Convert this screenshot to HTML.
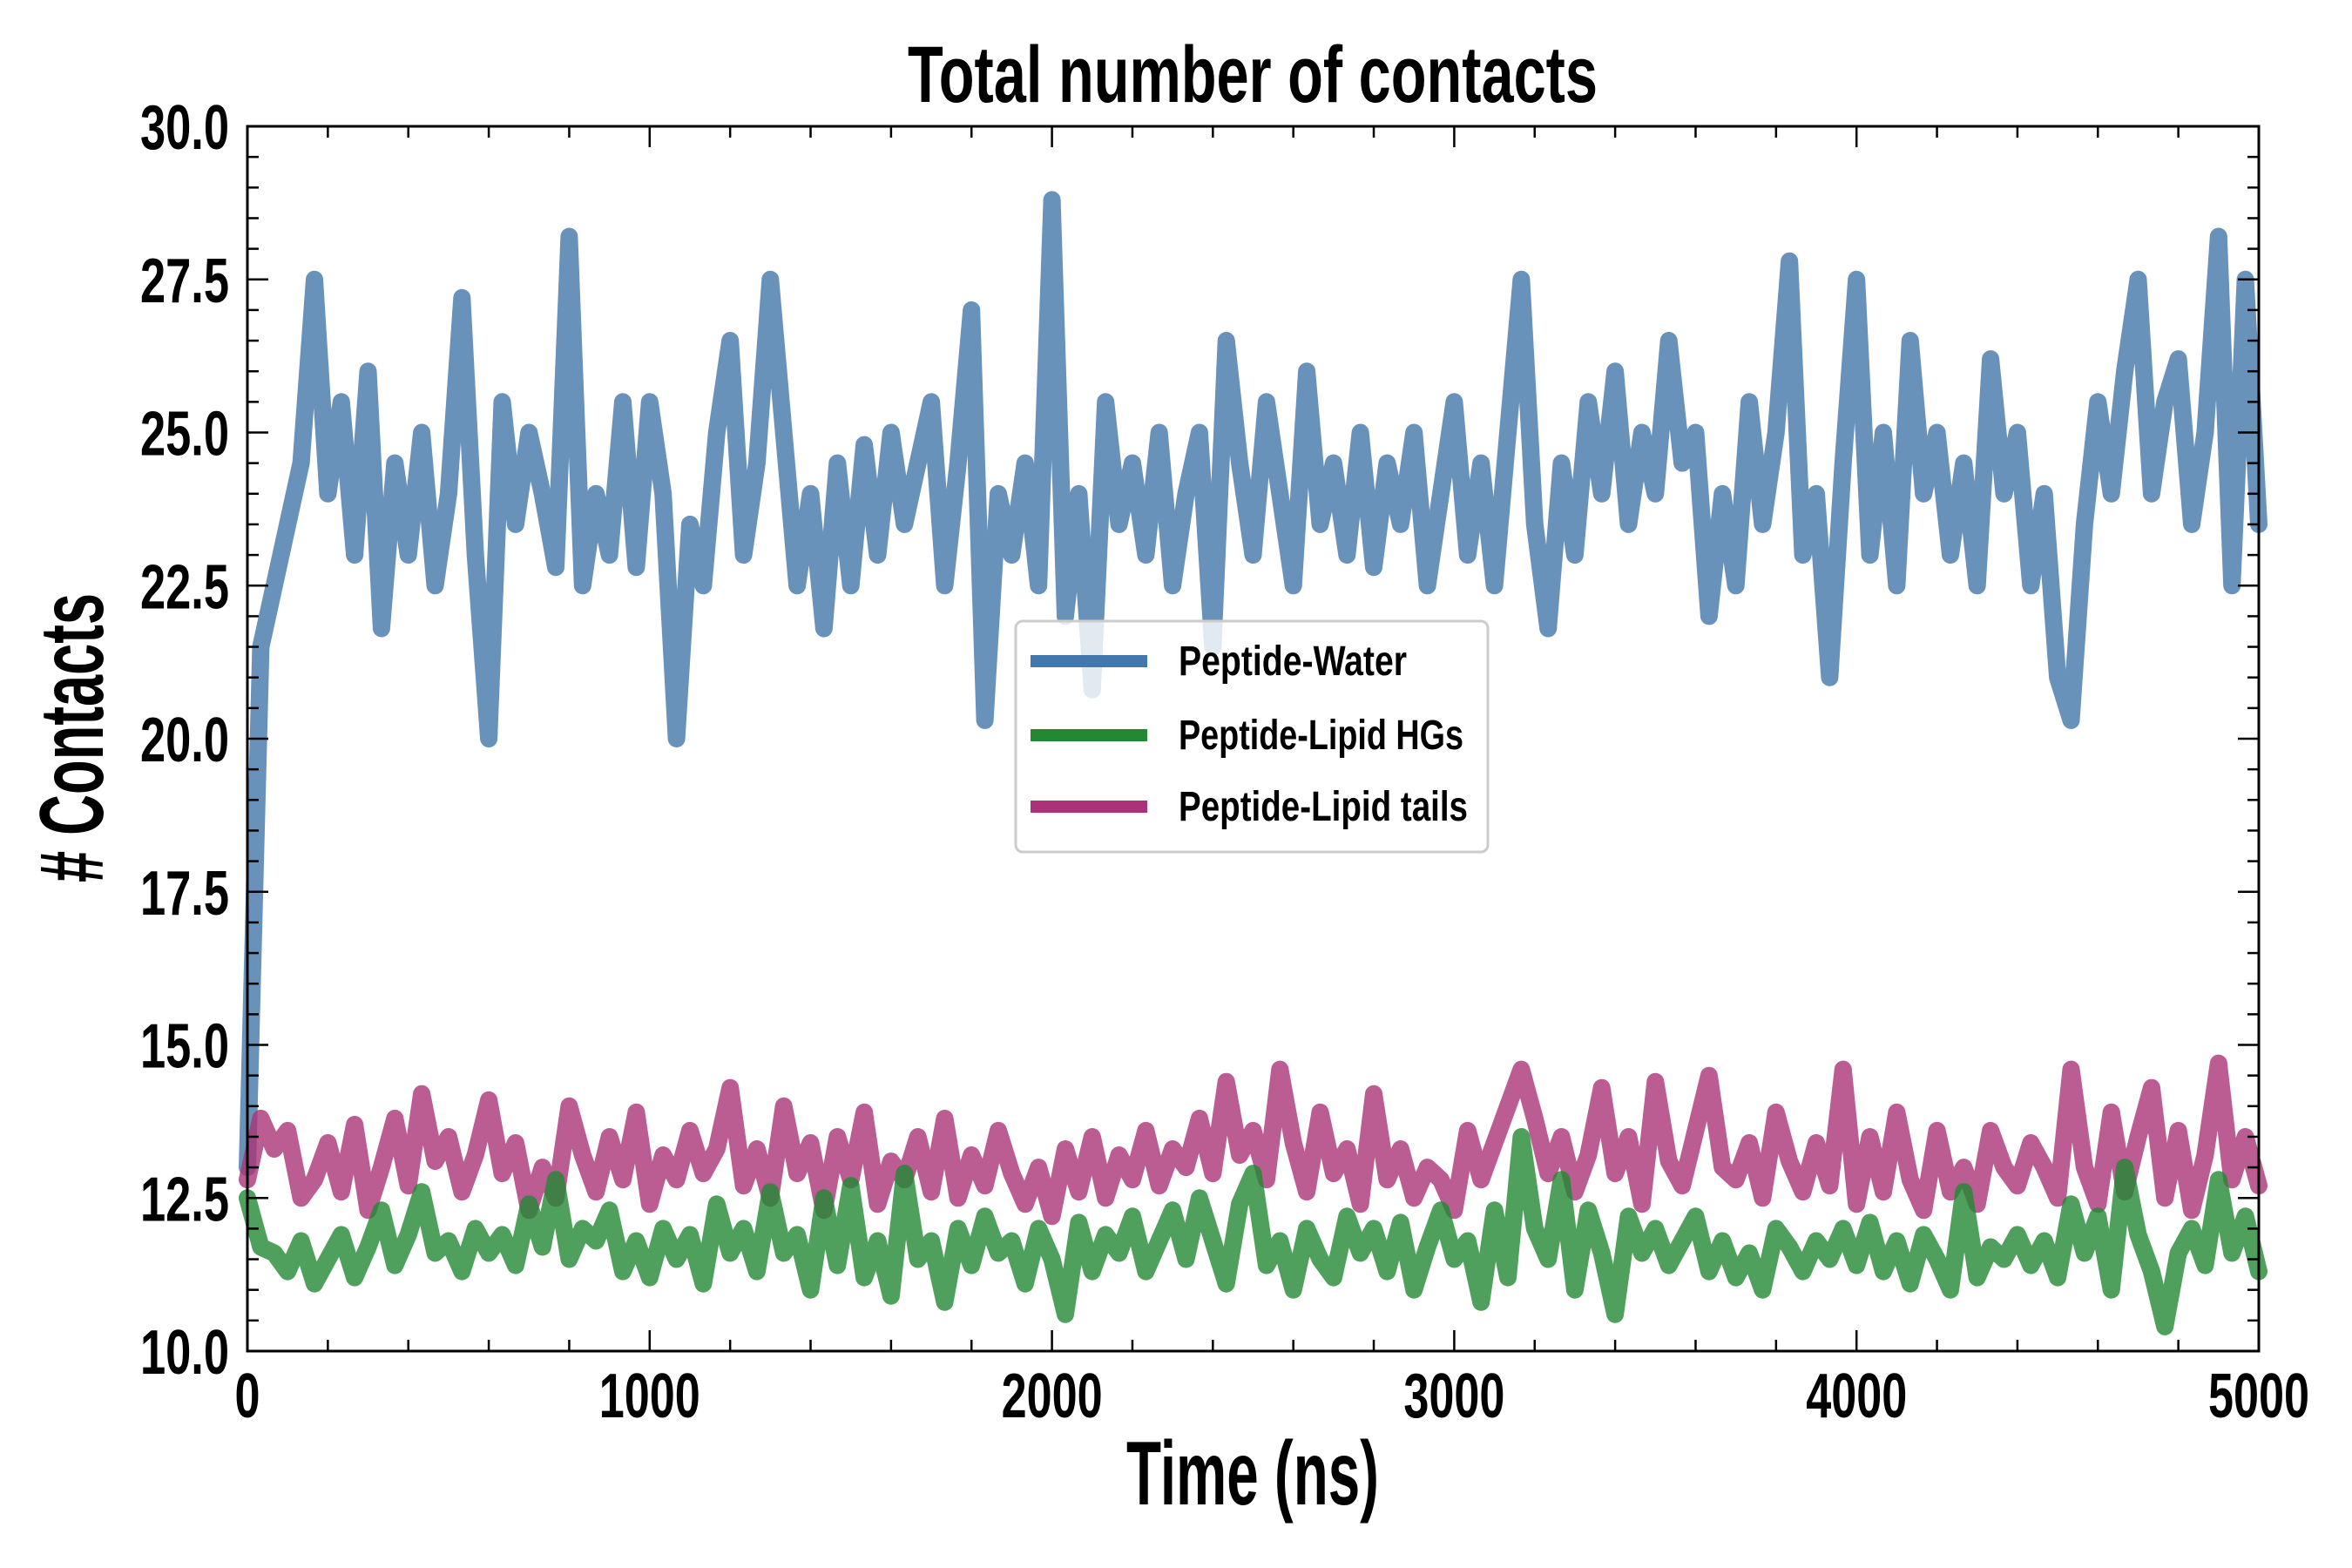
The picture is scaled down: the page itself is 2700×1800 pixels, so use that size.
<!DOCTYPE html>
<html><head><meta charset="utf-8"><style>html,body{margin:0;padding:0;background:#fff}svg{display:block}text{font-family:"Liberation Sans Narrow","Liberation Sans",sans-serif;font-weight:bold;fill:#000}</style></head>
<body>
<svg id="chart" width="2700" height="1800" viewBox="0 0 2700 1800" xmlns="http://www.w3.org/2000/svg">
<rect width="2700" height="1800" fill="#fff"/>
<g id="series"></g>
<g id="axes"></g>
<text x="1438" y="117" text-anchor="middle" font-size="92" textLength="792" lengthAdjust="spacingAndGlyphs">Total number of contacts</text>
<text x="1438" y="1727" text-anchor="middle" font-size="104" textLength="290" lengthAdjust="spacingAndGlyphs">Time (ns)</text>
<text transform="translate(118,847) rotate(-90)" text-anchor="middle" font-size="104" textLength="332" lengthAdjust="spacingAndGlyphs"># Contacts</text>
<g>
<rect x="1166" y="713" width="542" height="265" rx="8" fill="#fff" fill-opacity="0.8" stroke="#ccc" stroke-width="3"/>
<g><line x1="1183" y1="759" x2="1317" y2="759" stroke="#4477aa" stroke-width="14"/><text x="1353" y="775" font-size="48" textLength="262" lengthAdjust="spacingAndGlyphs">Peptide-Water</text></g>
<g><line x1="1183" y1="844" x2="1317" y2="844" stroke="#228833" stroke-width="14"/><text x="1353" y="860" font-size="48" textLength="327" lengthAdjust="spacingAndGlyphs">Peptide-Lipid HGs</text></g>
<g><line x1="1183" y1="926" x2="1317" y2="926" stroke="#aa3377" stroke-width="14"/><text x="1353" y="942" font-size="48" textLength="332" lengthAdjust="spacingAndGlyphs">Peptide-Lipid tails</text></g>
</g>
</svg>
<script>
const water = [13,21.5,22.5,23.5,24.5,27.5,24,25.5,23,26,21.8,24.5,23,25,22.5,24,27.2,23,20,25.5,23.5,25,24,22.8,28.2,22.5,24,23,25.5,22.8,
25.5,24,20,23.5,22.5,25,26.5,23,24.5,27.5,25,22.5,24,21.8,24.5,22.5,24.8,23,25,23.5,24.5,25.5,22.5,24.5,27,20.3,24,23,24.5,22.5,
28.8,22,24,20.8,25.5,23.5,24.5,23,25,22.5,24,25,21.5,26.5,24.5,23,25.5,24,22.5,26,23.5,24.5,23,25,22.8,24.5,23.5,25,22.5,24,
25.5,23,24.5,22.5,25,27.5,23.5,21.8,24.5,23,25.5,24,26,23.5,25,24,26.5,24.5,25,22,24,22.5,25.5,23.5,25,27.8,23,24,21,24.5,
27.5,23,25,22.5,26.5,24,25,23,24.5,22.5,26.2,24,25,22.5,24,21,20.3,23.5,25.5,24,26,27.5,24,25.5,26.2,23.5,25,28.2,22.5,27.5,23.5];
const tails = [12.8,13.8,13.3,13.6,12.5,12.8,13.4,12.6,13.7,12.3,13.0,13.8,12.7,14.2,13.1,13.5,12.6,13.2,14.1,12.9,13.4,12.3,13.0,12.5,14.0,13.2,12.6,13.5,12.8,13.9,
12.4,13.2,12.8,13.6,12.9,13.3,14.3,12.7,13.3,12.5,14.0,12.9,13.4,12.3,13.5,12.8,13.9,12.4,13.1,12.8,13.5,12.6,13.8,12.5,13.2,12.7,13.6,12.9,12.4,13.0,
12.2,13.3,12.6,13.5,12.5,13.2,12.8,13.6,12.7,13.3,13.0,13.8,12.9,14.4,13.2,13.6,12.8,14.6,13.4,12.6,13.9,12.9,13.3,12.4,14.2,12.8,13.3,12.5,13.0,12.8,
12.3,13.6,12.8,13.4,14.0,14.6,13.8,12.9,13.5,12.6,13.2,14.3,12.9,13.5,12.4,14.4,13.1,12.7,13.6,14.5,13.0,12.8,13.4,12.5,13.9,13.1,12.6,13.4,12.7,14.6,
12.4,13.5,12.6,13.9,12.8,12.3,13.6,12.6,13.0,12.4,13.6,13.0,12.7,13.4,13.0,12.5,14.6,13.0,12.4,13.9,12.6,13.5,14.3,12.5,13.6,12.3,13.2,14.7,12.8,13.5,12.7];
const hgs = [12.5,11.7,11.6,11.3,11.8,11.1,11.5,11.9,11.2,11.7,12.3,11.4,11.9,12.6,11.6,11.8,11.3,12.0,11.6,11.9,11.4,12.4,11.7,12.8,11.5,12.0,11.8,12.3,11.3,11.8,
11.2,12.0,11.5,11.9,11.1,12.4,11.6,12.0,11.3,12.6,11.6,11.9,11.0,12.5,11.4,12.7,11.2,11.8,10.9,12.9,11.5,11.8,10.8,12.0,11.4,12.2,11.6,11.8,11.1,12.0,
11.5,10.6,12.1,11.3,11.9,11.6,12.2,11.3,11.8,12.3,11.5,12.5,11.8,11.1,12.4,12.9,11.4,11.8,11.0,12.0,11.5,11.2,12.2,11.6,12.0,11.3,12.1,11.0,11.7,12.3,
11.5,11.8,10.8,12.3,11.2,13.5,12.0,11.5,12.8,11.0,12.3,11.6,10.6,12.2,11.6,12.0,11.4,11.8,12.2,11.3,11.8,11.2,11.6,11.0,12.0,11.7,11.3,11.8,11.5,12.0,
11.4,12.1,11.3,11.8,11.1,11.9,11.5,11.0,12.6,11.2,11.7,11.5,11.9,11.4,11.8,11.2,12.4,11.6,12.2,11.0,13.0,11.9,11.3,10.4,11.6,12.0,11.4,12.8,11.6,12.2,11.3];
const xTicks = [0,1000,2000,3000,4000,5000];
const yTicks = ["10.0","12.5","15.0","17.5","20.0","22.5","25.0","27.5","30.0"];
const tMax = 5000;

const L=284,R=2593,T=145,B=1551;
const xs = v => L + (v/5000)*(R-L);
const ys = v => B - ((v-10)/20)*(B-T);
const NS='http://www.w3.org/2000/svg';
function mk(tag, attrs, parent){const e=document.createElementNS(NS,tag);for(const k in attrs)e.setAttribute(k,attrs[k]);parent.appendChild(e);return e;}
const sg=document.getElementById('series');
function drawLine(arr,color,name){
  const n=arr.length;
  const d=arr.map((v,i)=>(i?'L':'M')+xs(i*tMax/(n-1)).toFixed(1)+','+ys(v).toFixed(1)).join('');
  const p=mk('path',{d:d,fill:'none',stroke:color,'stroke-width':20,'stroke-opacity':0.8,'stroke-linejoin':'round','stroke-linecap':'round'},sg);
  
  
}
drawLine(water,'#4477aa','water-line');
drawLine(tails,'#aa3377','lipid-tails-line');
drawLine(hgs,'#228833','lipid-hgs-line');
const ag=document.getElementById('axes');
const frame=mk('rect',{x:L,y:T,width:R-L,height:B-T,fill:'none',stroke:'#000','stroke-width':3},ag);


for(let v=0;v<=5000;v+=200){
  const x=xs(v), major=v%1000===0, len=major?24:13;
  mk('line',{x1:x,y1:B,x2:x,y2:B-len,stroke:'#000','stroke-width':2.5},ag);
  mk('line',{x1:x,y1:T,x2:x,y2:T+len,stroke:'#000','stroke-width':2.5},ag);
}
for(let k=0;k<=40;k++){
  const v=10+k*0.5, y=ys(v), major=k%5===0, len=major?24:13;
  mk('line',{x1:L,y1:y,x2:L+len,y2:y,stroke:'#000','stroke-width':2.5},ag);
  mk('line',{x1:R,y1:y,x2:R-len,y2:y,stroke:'#000','stroke-width':2.5},ag);
}
xTicks.forEach(v=>{
  const t=mk('text',{x:xs(v),y:1627,'text-anchor':'middle','font-size':72,textLength:String(v).length*29,lengthAdjust:'spacingAndGlyphs'},ag);
  t.textContent=String(v);
  
  
});
yTicks.forEach(s=>{
  const t=mk('text',{x:263,y:ys(parseFloat(s))+26,'text-anchor':'end','font-size':72,textLength:102,lengthAdjust:'spacingAndGlyphs'},ag);
  t.textContent=s;
  
  
});
</script>
</body></html>
